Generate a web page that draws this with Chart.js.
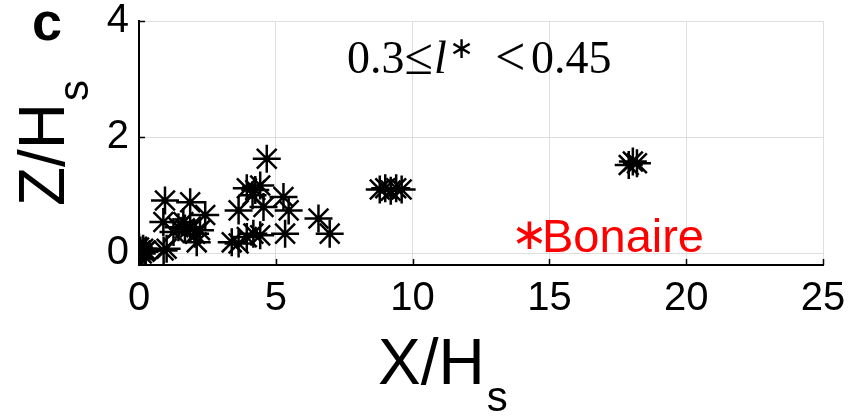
<!DOCTYPE html>
<html>
<head>
<meta charset="utf-8">
<script src="https://cdn.jsdelivr.net/npm/chart.js@4.4.1/dist/chart.umd.min.js"></script>
<style>
  html, body { margin: 0; padding: 0; background: #ffffff; }
  #wrap { width: 851px; height: 418px; }
</style>
</head>
<body>
<div id="wrap"><canvas id="c" width="851" height="418"></canvas></div>
<script>
// ---- data ----
const xValues = [
  0.05, 0.10, 0.15, 0.20, 0.00, 0.25, 0.90,
  1.01, 0.95, 0.89, 1.26, 1.44, 1.62, 1.68, 1.87, 1.87, 2.05, 2.11, 2.23, 2.42,
  3.39, 3.64, 3.64, 3.94, 3.94, 4.15, 4.18, 4.25, 4.43, 4.43, 4.55, 4.67,
  5.28, 5.34, 5.47, 6.56, 6.97,
  8.80, 9.00, 9.20, 9.40, 9.60,
  17.90, 18.05, 18.20
];
const yValues = [
  0.05, 0.00, 0.08, 0.03, 0.10, 0.05, 0.05,
  0.08, 0.91, 0.54, 0.37, 0.45, 0.54, 0.43, 0.88, 0.45, 0.34, 0.19, 0.40, 0.66,
  0.19, 0.74, 0.17, 1.12, 0.28, 1.00, 0.34, 1.09, 1.17, 0.31, 0.80, 1.63,
  0.97, 0.34, 0.74, 0.60, 0.34,
  1.10, 1.12, 1.08, 1.12, 1.10,
  1.52, 1.58, 1.55
];
const xTickValues = [0, 5, 10, 15, 20, 25];
const yTickValues = [0, 2, 4];
const xLimits = [0, 25];
const yLimits = [-0.2, 4];
const siteLabel = 'Bonaire';
const panelLabel = 'c';

const points = xValues.map((x, i) => ({ x: x, y: yValues[i] }));

const SANS = '"Liberation Sans", Arial, sans-serif';
const SERIF = '"Liberation Serif", "DejaVu Serif", serif';

function zeroPadding(s) {
  s.paddingTop = 0; s.paddingBottom = 0; s.paddingLeft = 0; s.paddingRight = 0;
}

const decorations = {
  id: 'decorations',
  afterDraw(chart) {
    const ctx = chart.ctx;
    const a = chart.chartArea;
    const xs = chart.scales.x, ys = chart.scales.y;
    ctx.save();
    // inward tick marks
    ctx.strokeStyle = '#000';
    ctx.lineWidth = 1.5;
    ctx.beginPath();
    xTickValues.forEach(v => {
      const px = Math.round(xs.getPixelForValue(v)) + 0.5;
      ctx.moveTo(px, a.bottom);
      ctx.lineTo(px, a.bottom - 6);
    });
    yTickValues.forEach(v => {
      const py = Math.round(ys.getPixelForValue(v)) + 0.5;
      ctx.moveTo(a.left, py);
      ctx.lineTo(a.left + 6, py);
    });
    ctx.stroke();

    ctx.fillStyle = '#000';
    // panel label
    ctx.font = 'bold 54px ' + SANS;
    ctx.textAlign = 'center';
    ctx.textBaseline = 'alphabetic';
    ctx.fillText(panelLabel, 47, 40);

    // x axis title X/H with subscript s
    ctx.textAlign = 'left';
    ctx.font = '64px ' + SANS;
    const xMain = 'X/H';
    const wX = ctx.measureText(xMain).width;
    const xLeft = 378;
    ctx.fillText(xMain, xLeft, 384);
    ctx.font = '42px ' + SANS;
    ctx.fillText('s', xLeft + wX + 2, 411);

    // y axis title Z/H with subscript s (rotated)
    ctx.save();
    ctx.translate(64, 206);
    ctx.rotate(-Math.PI / 2);
    ctx.font = '64px ' + SANS;
    const wZ = ctx.measureText('Z/H').width;
    ctx.fillText('Z/H', 0, 0);
    ctx.font = '42px ' + SANS;
    ctx.fillText('s', wZ + 2, 24);
    ctx.restore();

    // annotation 0.3 ≤ l* < 0.45
    let cx = 347;
    const by = 73;
    ctx.font = '46px ' + SERIF;
    ctx.fillText('0.3', cx, by); cx += ctx.measureText('0.3').width;
    ctx.font = '52px ' + SERIF;
    ctx.fillText('\u2264', cx, by + 1); cx += ctx.measureText('\u2264').width + 1;
    ctx.font = 'italic 46px ' + SERIF;
    ctx.fillText('l', cx, by); cx += ctx.measureText('l').width + 2;
    ctx.font = '30px ' + SANS;
    ctx.fillText('\u2217', cx, by - 15);
    ctx.font = '54px ' + SERIF;
    ctx.fillText('<', 495, by + 2);
    ctx.font = '46px ' + SERIF;
    ctx.fillText('0.45', 531, by);

    // site label
    ctx.fillStyle = '#ff0000';
    ctx.font = '44px ' + SANS;
    ctx.fillText('\u2217', 511, 249);
    ctx.font = '47px ' + SANS;
    ctx.fillText(siteLabel, 542, 252);
    ctx.restore();
  }
};

new Chart(document.getElementById('c'), {
  type: 'scatter',
  data: {
    datasets: [{
      data: points,
      pointStyle: 'star',
      radius: 14,
      hoverRadius: 14,
      borderWidth: 2.5,
      borderColor: '#000',
      backgroundColor: '#000'
    }]
  },
  options: {
    responsive: false,
    animation: false,
    devicePixelRatio: 1,
    events: [],
    layout: { padding: { top: 21, right: 28, left: 0, bottom: 0 } },
    plugins: { legend: { display: false }, tooltip: { enabled: false }, title: { display: false } },
    scales: {
      x: {
        type: 'linear',
        min: xLimits[0], max: xLimits[1],
        afterBuildTicks: s => { s.ticks = xTickValues.map(v => ({ value: v })); },
        afterFit: s => { s.height = 153; zeroPadding(s); },
        ticks: { color: '#000', font: { family: SANS, size: 40 }, padding: 10, maxRotation: 0, autoSkip: false },
        grid: { color: '#dedede', lineWidth: 1, drawTicks: false },
        border: { display: true, color: '#000', width: 2 }
      },
      y: {
        type: 'linear',
        min: yLimits[0], max: yLimits[1],
        afterBuildTicks: s => { s.ticks = yTickValues.map(v => ({ value: v })); },
        afterFit: s => { s.width = 139; zeroPadding(s); },
        ticks: { color: '#000', font: { family: SANS, size: 40 }, padding: 10, autoSkip: false },
        grid: { color: '#dedede', lineWidth: 1, drawTicks: false },
        border: { display: true, color: '#000', width: 2 }
      }
    }
  },
  plugins: [decorations]
});
</script>
</body>
</html>
